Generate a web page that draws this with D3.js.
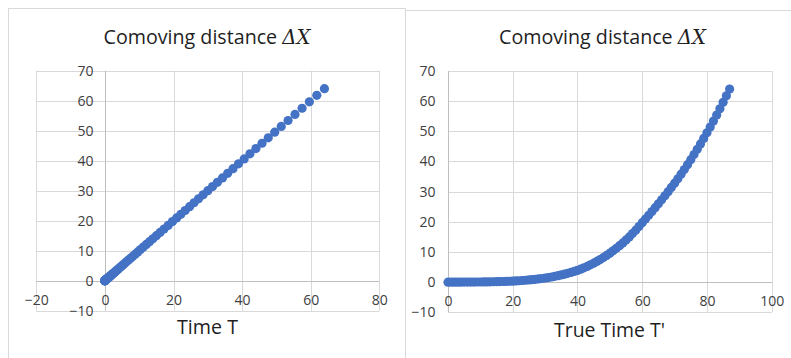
<!DOCTYPE html>
<html>
<head>
<meta charset="utf-8">
<script src="https://cdn.jsdelivr.net/npm/d3@7"></script>
<style>
  html, body { margin: 0; padding: 0; background: #ffffff; }
  svg { display: block; }
</style>
</head>
<body>
<svg id="chart" width="791" height="358"></svg>
<script>
// ---------- data ----------
const chartTitle = ["Comoving distance ", "\u0394X"];
const leftAxisTitle = "Time T";
const rightAxisTitle = "True Time T'";

const trueTime = [0,1,2,3,4,5,6,7,8,9,10,11,12,13,14,15,16,17,18,19,20,21,22,23,24,25,26,27,28,29,
  30,31,32,33,34,35,36,37,38,39,40,41,42,43,44,45,46,47,48,49,50,51,52,53,54,55,56,57,58,59,
  60,61,62,63,64,65,66,67,68,69,70,71,72,73,74,75,76,77,78,79,80,81,82,83,84,85,86,87];

const comovingDistance = [0,0,0,0,0,0.01,0.01,0.02,0.03,0.04,0.05,0.07,0.08,0.10,0.13,0.15,0.18,0.21,0.25,0.29,
  0.33,0.39,0.46,0.54,0.62,0.72,0.82,0.94,1.06,1.20,1.35,1.52,1.71,1.92,2.14,2.39,2.65,2.93,3.23,3.55,
  3.90,4.31,4.75,5.22,5.73,6.28,6.86,7.48,8.15,8.85,9.60,10.38,11.20,12.08,13.00,13.98,15.00,16.09,17.23,18.43,
  19.70,20.91,22.14,23.40,24.68,25.98,27.30,28.64,30.00,31.39,32.80,34.27,35.79,37.35,38.95,40.60,42.29,44.03,45.81,47.63,
  49.50,51.42,53.40,55.42,57.49,59.61,61.78,64.00];

const timeT = [0,0,0,0,0,0.01,0.01,0.02,0.03,0.04,0.05,0.07,0.08,0.10,0.13,0.15,0.18,0.21,0.25,0.29,
  0.33,0.39,0.46,0.54,0.62,0.72,0.82,0.94,1.06,1.20,1.35,1.52,1.71,1.92,2.14,2.39,2.65,2.93,3.23,3.55,
  3.90,4.31,4.75,5.22,5.73,6.28,6.86,7.48,8.15,8.85,9.60,10.38,11.20,12.08,13.00,13.98,15.00,16.09,17.23,18.43,
  19.70,20.91,22.14,23.40,24.68,25.98,27.30,28.64,30.00,31.39,32.80,34.27,35.79,37.35,38.95,40.60,42.29,44.03,45.81,47.63,
  49.50,51.42,53.40,55.42,57.49,59.61,61.78,64.00];

const yTicks = [-10,0,10,20,30,40,50,60,70];
const xTicksLeft = [-20,0,20,40,60,80];
const xTicksRight = [0,20,40,60,80,100];

// ---------- drawing ----------
const svg = d3.select("#chart");
const BLUE = "#4472c4";
const GRID = "#d9d9d9";
const AXIS = "#bfbfbf";
const TICK_COLOR = "#404040";
const FONT = "'Open Sans', 'Liberation Sans', sans-serif";

// panels
svg.append("rect").attr("x", 8.5).attr("y", 8.5).attr("width", 397).attr("height", 420)
  .attr("fill", "#fff").attr("stroke", GRID);
svg.append("rect").attr("x", 405.5).attr("y", 10.5).attr("width", 420).attr("height", 420)
  .attr("fill", "#fff").attr("stroke", GRID);

function fitText(sel, targetW) {
  const w = sel.node().getComputedTextLength();
  const fs = parseFloat(sel.attr("font-size"));
  sel.attr("font-size", (fs * targetW / w).toFixed(2));
}

function drawChart(cfg) {
  const g = svg.append("g");
  const x = d3.scaleLinear().domain(cfg.xDomain).range(cfg.xRange);
  const y = d3.scaleLinear().domain([-10, 70]).range(cfg.yRange);

  // gridlines
  g.append("g").selectAll("line.h").data(yTicks.filter(d => d !== 0)).join("line")
    .attr("x1", x(cfg.xDomain[0])).attr("x2", x(cfg.xDomain[1]))
    .attr("y1", d => Math.round(y(d)) + 0.5).attr("y2", d => Math.round(y(d)) + 0.5)
    .attr("stroke", GRID).attr("stroke-width", 1);
  g.append("g").selectAll("line.v").data(cfg.xTicks.filter(d => d !== 0)).join("line")
    .attr("y1", y(70)).attr("y2", y(-10))
    .attr("x1", d => Math.round(x(d)) + 0.5).attr("x2", d => Math.round(x(d)) + 0.5)
    .attr("stroke", GRID).attr("stroke-width", 1);
  // zero axis lines
  g.append("line").attr("x1", x(cfg.xDomain[0])).attr("x2", x(cfg.xDomain[1]))
    .attr("y1", Math.round(y(0)) + 0.5).attr("y2", Math.round(y(0)) + 0.5)
    .attr("stroke", AXIS);
  g.append("line").attr("y1", y(70)).attr("y2", y(-10))
    .attr("x1", Math.round(x(0)) + 0.5).attr("x2", Math.round(x(0)) + 0.5)
    .attr("stroke", AXIS);

  // axes labels via d3 axes
  const ax = g.append("g").attr("transform", `translate(${Math.round(x(0)) + 0.5},0)`)
    .call(d3.axisLeft(y).tickValues(yTicks).tickSize(0).tickPadding(cfg.yPad).tickFormat(d3.format("d")));
  const bx = g.append("g").attr("transform", `translate(0,${Math.round(y(0)) + 0.5})`)
    .call(d3.axisBottom(x).tickValues(cfg.xTicks).tickSize(0).tickPadding(13.5).tickFormat(d3.format("d")));
  [ax, bx].forEach(a => {
    a.select(".domain").remove();
    a.selectAll("text").attr("font-family", FONT).attr("font-size", 14).attr("fill", TICK_COLOR);
  });

  // points
  g.append("g").selectAll("circle").data(cfg.xs.map((v, i) => [v, comovingDistance[i]])).join("circle")
    .attr("cx", d => x(d[0])).attr("cy", d => y(d[1])).attr("r", 4.6).attr("fill", BLUE);

  // title
  const t = g.append("text").attr("x", cfg.titleCx).attr("y", 44)
    .attr("text-anchor", "middle").attr("font-family", FONT).attr("font-size", 20).attr("fill", "#1f1f1f");
  t.append("tspan").text(chartTitle[0]);
  t.append("tspan").attr("font-style", "italic").attr("font-family", "'DejaVu Serif', serif").text(chartTitle[1]);
  fitText(t, 207);

  // axis title
  const at = g.append("text").attr("x", cfg.axCx).attr("y", cfg.axY)
    .attr("text-anchor", "middle").attr("font-family", FONT).attr("font-size", 20).attr("fill", "#1f1f1f")
    .text(cfg.axTitle);
  fitText(at, cfg.axW);
}

drawChart({
  xDomain: [-20, 80], xRange: [36.3, 379.3], yRange: [310.7, 70.7],
  xTicks: xTicksLeft, xs: timeT, yPad: 12,
  titleCx: 207, axCx: 207.5, axY: 334, axTitle: leftAxisTitle, axW: 61
});
drawChart({
  xDomain: [0, 100], xRange: [448, 771.7], yRange: [312.3, 71],
  xTicks: xTicksRight, xs: trueTime, yPad: 13,
  titleCx: 602.5, axCx: 609.5, axY: 337, axTitle: rightAxisTitle, axW: 111
});
</script>
</body>
</html>
